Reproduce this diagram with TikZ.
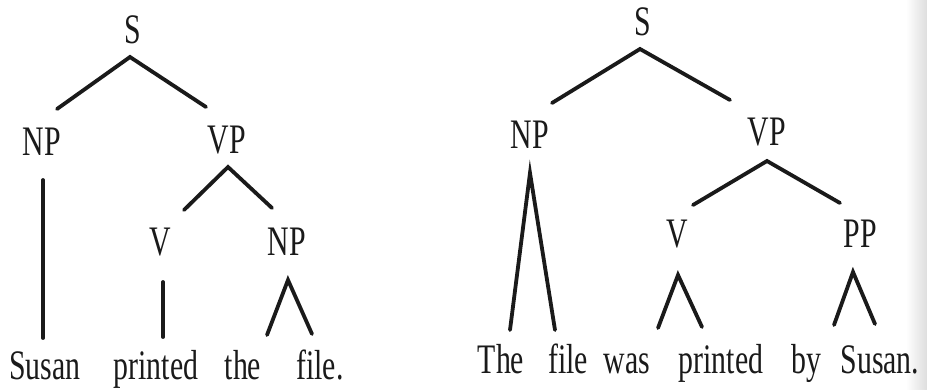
\documentclass[tikz,border=0pt]{standalone}
\usepackage{fontspec}
\setmainfont[FakeStretch=0.71]{Liberation Serif}
\begin{document}
\begin{tikzpicture}[x=1pt,y=-1pt,
  lbl/.style={anchor=base,inner sep=0pt,text=ink,font=\fontsize{42}{42}\selectfont},
  branch/.style={draw=ink,line width=3.8pt,line cap=round,line join=miter}]
\definecolor{ink}{HTML}{1A1A1A}
\definecolor{shade}{HTML}{C8C8C8}
\useasboundingbox (0,0) rectangle (927,389);
\fill[white] (0,0) rectangle (927,389);
% scanner shadow along the right-hand edge
\shade[left color=white,right color=shade,opacity=0.6] (906,0) rectangle (927,389);

% ---------- active sentence ----------
\node[lbl] (s1)   at (133,43)  {S};
\node[lbl] (np1)  at (42,155)  {NP};
\node[lbl] (vp1)  at (227,153) {VP};
\node[lbl] (v1)   at (160,255) {V};
\node[lbl] (np2)  at (287,255) {NP};
\node[lbl] (w1)   at (45,379)  {Susan};
\node[lbl] (w2)   at (156,379) {printed};
\node[lbl] (w3)   at (243,379) {the};
\node[lbl] (w4)   at (320,379) {file.};

\coordinate (s1a) at (130,57);  \coordinate (s1l) at (57,109);  \coordinate (s1r) at (206,107);
\coordinate (vp1a) at (228,167); \coordinate (vp1l) at (184,210); \coordinate (vp1r) at (272,208);
\coordinate (np1t) at (43,180);  \coordinate (np1b) at (43,338);
\coordinate (v1t) at (163,282);  \coordinate (v1b) at (163,337);
\coordinate (np2a) at (288,280); \coordinate (np2l) at (267,335); \coordinate (np2r) at (312,334);

\draw[branch] (s1l) -- (s1a) -- (s1r);
\draw[branch] (vp1l) -- (vp1a) -- (vp1r);
\draw[branch] (np1t) -- (np1b);
\draw[branch] (v1t) -- (v1b);
\draw[branch] (np2l) -- (np2a) -- (np2r);

% ---------- passive sentence ----------
\node[lbl] (s2)   at (643,35)  {S};
\node[lbl] (np3)  at (530,148) {NP};
\node[lbl] (vp2)  at (767,145) {VP};
\node[lbl] (v2)   at (677,247) {V};
\node[lbl] (pp1)  at (860,247) {PP};
\node[lbl] (x1)   at (501,373) {The};
\node[lbl] (x2)   at (568,373) {file};
\node[lbl] (x3)   at (627,373) {was};
\node[lbl] (x4)   at (721,373) {printed};
\node[lbl] (x5)   at (806,373) {by};
\node[lbl] (x6)   at (880,373) {Susan.};

\coordinate (s2a) at (640,49);  \coordinate (s2l) at (552,103); \coordinate (s2r) at (730,100);
\coordinate (vp2a) at (767,161); \coordinate (vp2l) at (693,205); \coordinate (vp2r) at (840,203);
\coordinate (np3a) at (530,173); \coordinate (np3l) at (510,330); \coordinate (np3r) at (555,330);
\coordinate (v2a) at (678,275);  \coordinate (v2l) at (658,328);  \coordinate (v2r) at (702,327);
\coordinate (pp1a) at (853,272); \coordinate (pp1l) at (834,325); \coordinate (pp1r) at (875,324);

\draw[branch] (s2l) -- (s2a) -- (s2r);
\draw[branch] (vp2l) -- (vp2a) -- (vp2r);
\draw[branch] (np3l) -- (np3a) -- (np3r);
\draw[branch] (v2l) -- (v2a) -- (v2r);
\draw[branch] (pp1l) -- (pp1a) -- (pp1r);
\end{tikzpicture}
\end{document}
